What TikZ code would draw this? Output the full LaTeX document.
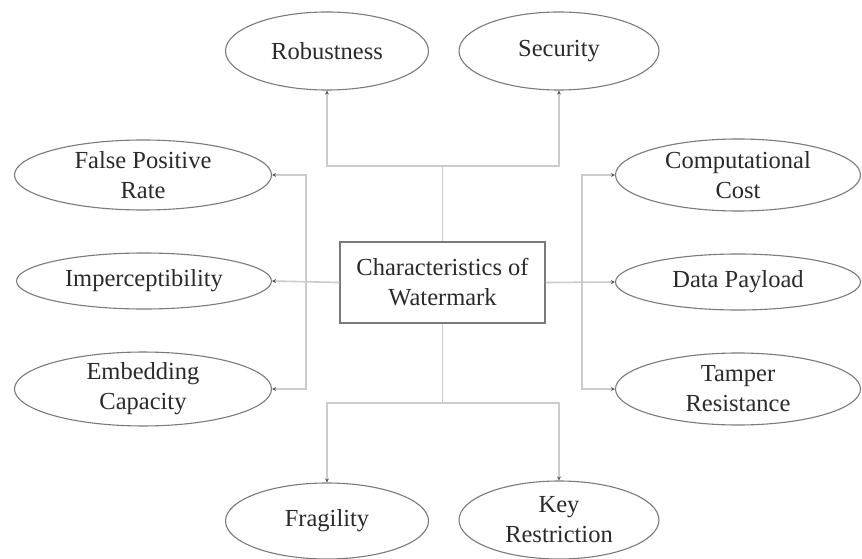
\documentclass[tikz,border=0pt]{standalone}
\usepackage{fontspec}
\setmainfont{Liberation Serif}
\usetikzlibrary{shapes.geometric,arrows.meta}
\definecolor{linegray}{HTML}{CCCCCC}
\definecolor{edgegray}{HTML}{7A7A7A}
\definecolor{tipgray}{HTML}{555555}
\definecolor{txt}{HTML}{2A2A2A}
\begin{document}
\begin{tikzpicture}[x=1pt,y=-1pt,
  oval/.style={ellipse,draw=edgegray,line width=1.1pt,inner sep=0pt,text=txt,align=center,
    font=\fontsize{24.5}{30}\selectfont},
  mainbox/.style={rectangle,draw=edgegray,line width=1.1pt,inner sep=0pt,text=txt,align=center,
    minimum width=205pt,minimum height=81pt,font=\fontsize{24.5}{30}\selectfont},
  conn/.style={draw=linegray,line width=1.6pt},
  arr/.style={conn,-{Stealth[length=4pt,width=4pt,color=tipgray]}}]
\useasboundingbox[fill=white] (0,0) rectangle (862,559);
\node[mainbox] (box) at (442.5,282.5) {Characteristics of\\Watermark};
\node[oval,minimum width=203pt,minimum height=78pt] (rob) at (327,51) {Robustness};
\node[oval,minimum width=200pt,minimum height=78pt] (sec) at (559,51) {Security};
\node[oval,minimum width=257pt,minimum height=70pt] (fpr) at (143,175) {False Positive\\Rate};
\node[oval,minimum width=255pt,minimum height=56pt] (imp) at (144,281) {Imperceptibility};
\node[oval,minimum width=257pt,minimum height=72pt] (emb) at (143,389) {Embedding\\Capacity};
\node[oval,minimum width=245pt,minimum height=72pt] (cc) at (738,175) {Computational\\Cost};
\node[oval,minimum width=245pt,minimum height=56pt] (dp) at (738,282) {Data Payload};
\node[oval,minimum width=245pt,minimum height=72pt] (tr) at (738,389) {Tamper\\Resistance};
\node[oval,minimum width=203pt,minimum height=76pt] (fra) at (327,521) {Fragility};
\node[oval,minimum width=200pt,minimum height=78pt] (key) at (559,520) {Key\\Restriction};
% top
\coordinate (tj) at (442.5,166);
\draw[conn] (box.north) -- (tj);
\draw[arr] (tj) -| (rob.south);
\draw[arr] (tj) -| (sec.south);
% bottom
\coordinate (bj) at (442.5,403);
\draw[conn] (box.south) -- (bj);
\draw[arr] (bj) -| (fra.north);
\draw[arr] (bj) -| (key.north);
% left
\coordinate (lj) at (306,282.5);
\draw[arr] (box.west) -- (imp.east);
\draw[arr] (lj) |- (fpr.east);
\draw[arr] (lj) |- (emb.east);
% right
\coordinate (rj) at (582,282.5);
\draw[arr] (box.east) -- (dp.west);
\draw[arr] (rj) |- (cc.west);
\draw[arr] (rj) |- (tr.west);
\end{tikzpicture}
\end{document}
